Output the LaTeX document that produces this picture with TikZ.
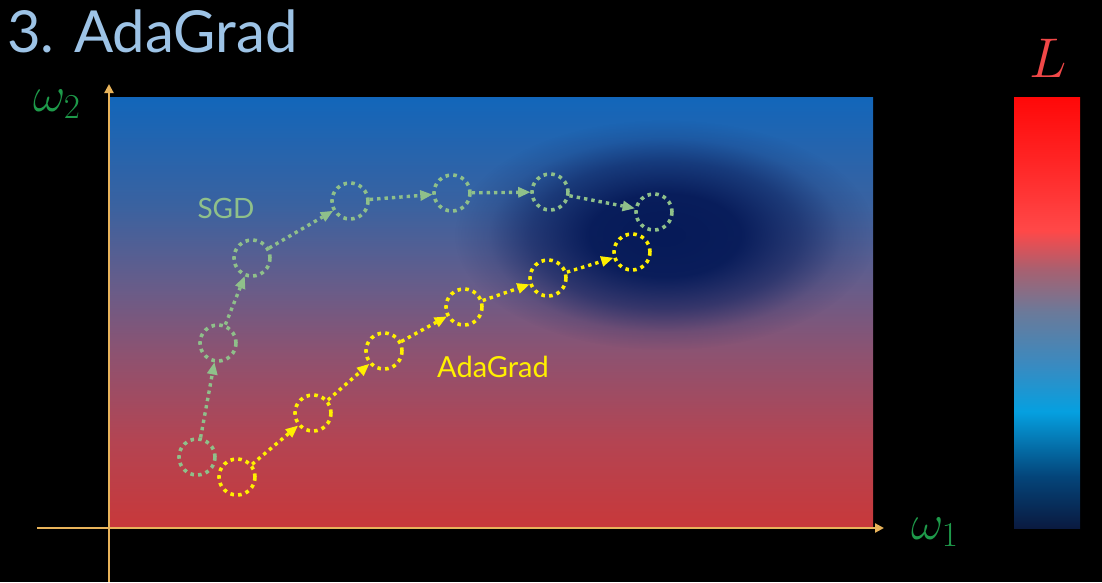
\RequirePackage{fix-cm}
\documentclass[tikz,border=0pt]{standalone}
\usepackage{fontspec}
\newfontfamily\lato{Lato}
\usetikzlibrary{arrows.meta,fadings}
\definecolor{titleblue}{HTML}{9DC3E6}
\definecolor{axiscol}{HTML}{E8B35A}
\definecolor{greenlab}{HTML}{1E9A4A}
\definecolor{sgdcol}{HTML}{8FC08A}
\definecolor{adacol}{HTML}{FFF000}
\definecolor{lcol}{HTML}{F04848}
\definecolor{blobcol}{HTML}{061A58}
\definecolor{pA}{HTML}{C8383A}
\definecolor{pB}{HTML}{B44452}
\definecolor{pC}{HTML}{8E5270}
\definecolor{pD}{HTML}{6A5C88}
\definecolor{pE}{HTML}{3A62A0}
\definecolor{pF}{HTML}{1266BA}
\definecolor{cA}{HTML}{0A1A40}
\definecolor{cB}{HTML}{04457A}
\definecolor{cC}{HTML}{05A0E0}
\definecolor{cD}{HTML}{3A8AC0}
\definecolor{cE}{HTML}{6A7A9A}
\definecolor{cF}{HTML}{A86070}
\definecolor{cG}{HTML}{FF4848}
\definecolor{cH}{HTML}{FF2525}
\definecolor{cI}{HTML}{FF0808}
\pgfdeclareverticalshading{plotshade}{100bp}{color(0bp)=(pA); color(25bp)=(pA); color(35bp)=(pB); color(45bp)=(pC); color(52.5bp)=(pD); color(62.5bp)=(pE); color(75bp)=(pF); color(100bp)=(pF)}
\pgfdeclareverticalshading{barshade}{100bp}{color(0bp)=(cA); color(25bp)=(cA); color(31bp)=(cB); color(38.5bp)=(cC); color(44bp)=(cD); color(50bp)=(cE); color(55bp)=(cF); color(59.5bp)=(cG); color(67.5bp)=(cH); color(75bp)=(cI); color(100bp)=(cI)}
\pgfdeclareradialshading{blobfadesh}{\pgfpointorigin}{color(0bp)=(pgftransparent!0); color(9bp)=(pgftransparent!5); color(16bp)=(pgftransparent!45); color(21bp)=(pgftransparent!85); color(25bp)=(pgftransparent!100); color(50bp)=(pgftransparent!100)}
\pgfdeclarefading{blobfade}{\pgfuseshading{blobfadesh}}
\tikzset{
  sgdnode/.style={circle, draw=sgdcol, line width=3.6pt, dash pattern=on 3.6pt off 4.2pt, minimum size=36pt, inner sep=0pt},
  adanode/.style={circle, draw=adacol, line width=3.6pt, dash pattern=on 3.6pt off 4.2pt, minimum size=36pt, inner sep=0pt},
  sgdarrow/.style={draw=sgdcol, line width=3.4pt, dash pattern=on 3.4pt off 4pt, -{Triangle[length=12pt,width=11pt,fill=sgdcol,line width=0pt]}},
  adaarrow/.style={draw=adacol, line width=3.4pt, dash pattern=on 3.4pt off 4pt, -{Triangle[length=12pt,width=11pt,fill=adacol,line width=0pt]}},
  axis/.style={draw=axiscol, line width=2.2pt, -{Triangle[length=9pt,width=9pt]}},
}
\begin{document}
\begin{tikzpicture}[x=1pt,y=-1pt]
\fill[black] (0,0) rectangle (1102,582);
\useasboundingbox (0,0) rectangle (1102,582);
% plot area
\shade[shading=plotshade] (109,97) rectangle (873,528);
\begin{scope}
\clip (109,97) rectangle (873,528);
\fill[blobcol, path fading=blobfade] (665,235) ellipse [x radius=210, y radius=115];
\end{scope}
% colour bar
\shade[shading=barshade] (1014,97) rectangle (1080,528);
% axes
\coordinate (ybot) at (109,582);
\coordinate (ytop) at (109,84);
\coordinate (xleft) at (37,528);
\coordinate (xright) at (884,528);
\draw[axis] (ybot) -- (ytop);
\draw[axis] (xleft) -- (xright);
% labels
\node[anchor=base west, text=titleblue, inner sep=0pt] (title) at (7,52) {\lato\fontsize{58}{58}\selectfont 3. AdaGrad};
\node[text=greenlab, inner sep=0pt] (w2) at (57,104) {\fontsize{50}{50}\selectfont$\omega_2$};
\node[text=greenlab, inner sep=0pt] (w1) at (935,532) {\fontsize{50}{50}\selectfont$\omega_1$};
\node[text=lcol, inner sep=0pt] (L) at (1048,58) {\fontsize{56}{56}\selectfont$L$};
\node[text=sgdcol, inner sep=0pt] (sgdlab) at (226,208) {\lato\fontsize{28}{28}\selectfont SGD};
\node[text=adacol, inner sep=0pt] (adalab) at (493,367) {\lato\fontsize{29}{29}\selectfont AdaGrad};
% SGD path
\node[sgdnode] (s1) at (197,457) {};
\node[sgdnode] (s2) at (218,343) {};
\node[sgdnode] (s3) at (252,258) {};
\node[sgdnode] (s4) at (350,201) {};
\node[sgdnode] (s5) at (452,193) {};
\node[sgdnode] (s6) at (550,192) {};
\node[sgdnode] (s7) at (654,212) {};
\draw[sgdarrow] (s1) -- (s2);
\draw[sgdarrow] (s2) -- (s3);
\draw[sgdarrow] (s3) -- (s4);
\draw[sgdarrow] (s4) -- (s5);
\draw[sgdarrow] (s5) -- (s6);
\draw[sgdarrow] (s6) -- (s7);
% AdaGrad path
\node[adanode] (a1) at (237,477) {};
\node[adanode] (a2) at (313,413) {};
\node[adanode] (a3) at (384,351) {};
\node[adanode] (a4) at (464,307) {};
\node[adanode] (a5) at (548,278) {};
\node[adanode] (a6) at (632,252) {};
\draw[adaarrow] (a1) -- (a2);
\draw[adaarrow] (a2) -- (a3);
\draw[adaarrow] (a3) -- (a4);
\draw[adaarrow] (a4) -- (a5);
\draw[adaarrow] (a5) -- (a6);
\end{tikzpicture}
\end{document}
